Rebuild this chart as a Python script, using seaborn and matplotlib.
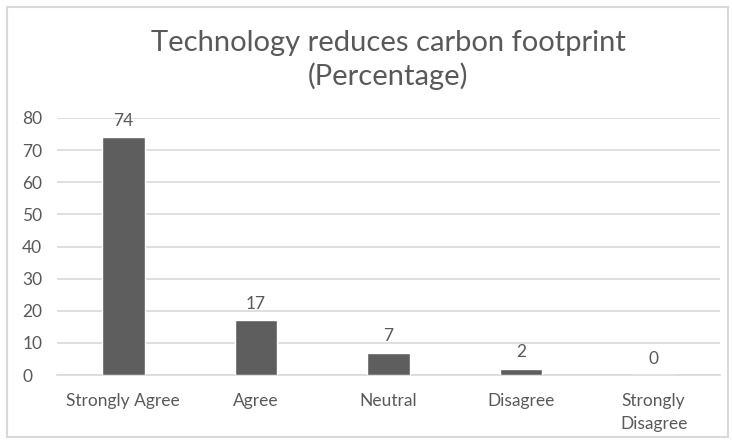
import matplotlib
matplotlib.use("Agg")
import matplotlib.pyplot as plt
import seaborn as sns
import pandas as pd
from matplotlib.patches import Rectangle

categories = ["Strongly Agree", "Agree", "Neutral", "Disagree", "Strongly\nDisagree"]
percentages = [74, 17, 7, 2, 0]
y_ticks = [0, 10, 20, 30, 40, 50, 60, 70, 80]
title = "Technology reduces carbon footprint\n(Percentage)"

sns.set_theme(style="white")
plt.rcParams["font.family"] = ["Lato", "DejaVu Sans"]

text_color = "#595959"
grid_color = "#d9d9d9"
bar_color = "#5e5e5e"

df = pd.DataFrame({"category": categories, "value": percentages})

fig = plt.figure(figsize=(7.32, 4.42), dpi=100)
ax = fig.add_axes([57 / 732, 1 - 375 / 442, (720 - 57) / 732, (375 - 118) / 442])

sns.barplot(data=df, x="category", y="value", color=bar_color, width=0.32,
            saturation=1, ax=ax, zorder=3)

ax.set_ylim(0, 80)
ax.set_yticks(y_ticks)
ax.set_xlim(-0.5, len(categories) - 0.5)
ax.yaxis.grid(True, color=grid_color, linewidth=1.2, zorder=0)
ax.xaxis.grid(False)
for side in ["top", "right", "left"]:
    ax.spines[side].set_visible(False)
ax.spines["bottom"].set_color(grid_color)
ax.spines["bottom"].set_linewidth(1.2)
ax.tick_params(axis="both", length=0, colors=text_color, labelsize=12.5)
ax.tick_params(axis="y", pad=25)
ax.tick_params(axis="x", pad=13)
ax.set_xlabel("")
ax.set_ylabel("")
for lbl in ax.get_yticklabels():
    lbl.set_horizontalalignment("left")
for lbl in ax.get_xticklabels():
    lbl.set_linespacing(1.55)

for container in ax.containers:
    ax.bar_label(container, labels=[str(v) for v in percentages], padding=6,
                 color=text_color, fontsize=12.5)

fig.text(388 / 732, 1 - 60 / 442, title, ha="center", va="center",
         fontsize=21, color=text_color, linespacing=1.25)

fig.patches.append(Rectangle((7 / 732, 5 / 442), 721 / 732, 430 / 442,
                             transform=fig.transFigure, fill=False,
                             edgecolor=grid_color, linewidth=1.5))

fig.savefig("out.png", dpi=100, facecolor="white")
